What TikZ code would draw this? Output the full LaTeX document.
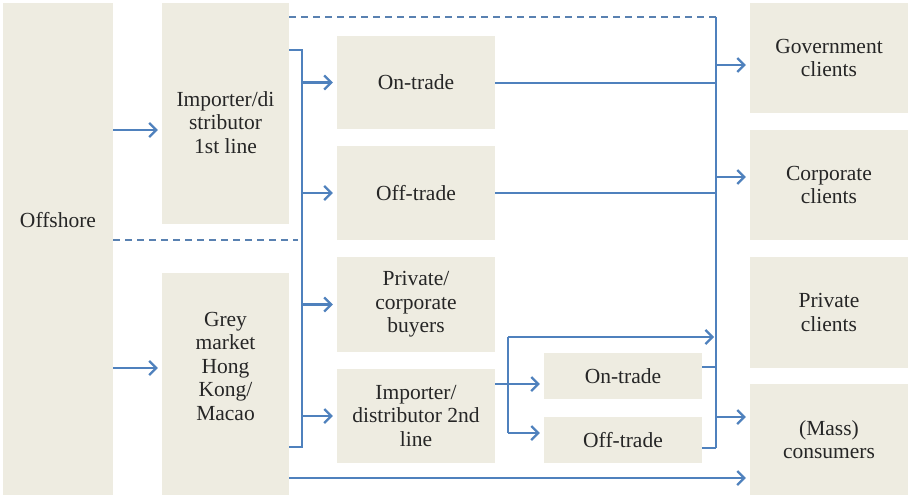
\documentclass[tikz,border=0pt]{standalone}
\usepackage{fontspec}
\setmainfont{Liberation Serif}
\usetikzlibrary{arrows.meta}
\definecolor{boxbg}{HTML}{EEECE1}
\definecolor{linkblue}{HTML}{4F81BD}

\begin{document}
\begin{tikzpicture}[x=1pt,y=-1pt,
    font=\fontsize{21.5}{23.5}\selectfont,
    box/.style={fill=boxbg, inner sep=0pt, align=center, text=black!85},
    every label/.style={align=center, text=black!85},
    link/.style={draw=linkblue, line width=2.2pt},
    arrow/.style={link, -{Straight Barb[length=7pt,width=14pt]}, shorten >=4pt},
    fence/.style={draw=linkblue!80!gray, line width=2.2pt, dash pattern=on 7pt off 5pt}]
    \useasboundingbox (0,0) rectangle (908,495);
    % sources
    \node[box, minimum width=110, minimum height=492, label={[yshift=29pt]center:Offshore}] (off) at (58,249) {};
    \node[box, minimum width=127, minimum height=221, label={[yshift=-9pt]center:Importer/di\\stributor\\1st line}] (imp1) at (225.5,113.5) {};
    \node[box, minimum width=127, minimum height=222, label={[yshift=18pt]center:Grey\\market\\Hong\\Kong/\\Macao}] (grey) at (225.5,384) {};
    % channels
    \node[box, minimum width=158, minimum height=93] (on1) at (416,82.5) {On-trade};
    \node[box, minimum width=158, minimum height=94] (off1) at (416,193) {Off-trade};
    \node[box, minimum width=158, minimum height=95] (priv) at (416,304.5) {Private/\\corporate\\buyers};
    \node[box, minimum width=158, minimum height=94] (imp2) at (416,416) {Importer/\\distributor 2nd\\line};
    \node[box, minimum width=158, minimum height=46] (on2) at (623,376) {On-trade};
    \node[box, minimum width=158, minimum height=46] (off2) at (623,440) {Off-trade};
    % clients
    \node[box, minimum width=158, minimum height=110] (gov) at (829,58) {Government\\clients};
    \node[box, minimum width=158, minimum height=110] (corp) at (829,185) {Corporate\\clients};
    \node[box, minimum width=158, minimum height=111] (privc) at (829,312.5) {Private\\clients};
    \node[box, minimum width=158, minimum height=111] (mass) at (829,439.5) {(Mass)\\consumers};

    % junction points
    \coordinate (jl) at (302,50);
    \coordinate (jlb) at (302,447);
    \coordinate (jr) at (716,17);
    \coordinate (jrb) at (716,448);
    \coordinate (jm) at (508,337);
    \coordinate (jmb) at (508,433);

    % offshore to importers
    \draw[arrow] (off.east |- 0,130) -- (imp1.west |- 0,130);
    \draw[arrow] (off.east |- 0,368) -- (grey.west |- 0,368);
    \draw[fence] (off.east |- 0,240) -- ++(185,0);

    % first line bracket
    \draw[link] (imp1.east |- jl) -- (jl) -- (jlb) -- (grey.east |- jlb);
    \foreach \n in {on1,off1,priv,imp2}
        \draw[arrow] (jl |- \n) -- (\n.west);

    % client bracket
    \draw[fence] (imp1.east |- jr) -- (jr);
    \draw[link] (jr) -- (jrb);
    \draw[link] (on1.east |- 0,83) -- (jr |- 0,83);
    \draw[link] (off1.east) -- (jr |- off1);
    \foreach \y/\n in {65/gov,177/corp,417/mass}
        \draw[arrow] (716,\y) -- (\n.west |- 0,\y);

    % second line
    \draw[arrow] (imp2.east |- 0,384) -- (on2.west |- 0,384);
    \draw[link] (jm) -- (jmb);
    \draw[arrow] (jmb) -- (off2.west |- jmb);
    \draw[arrow, shorten >=2pt] (jm) -- (jr |- jm);
    \draw[link] (on2.east |- 0,367) -- (jr |- 0,367);
    \draw[link] (off2.east |- jrb) -- (jrb);

    % grey market straight to consumers
    \draw[arrow] (grey.east |- 0,478) -- (mass.west |- 0,478);
\end{tikzpicture}
\end{document}
